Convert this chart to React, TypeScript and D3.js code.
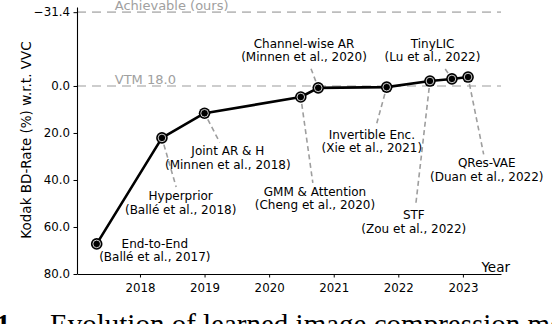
import React, { useEffect, useRef } from 'react';
import * as d3 from 'd3';

// points: publication year vs Kodak BD-rate w.r.t. VVC (lower is better)
const years = [2017.33, 2018.34, 2019.0, 2020.49, 2020.76, 2021.82, 2022.49, 2022.83, 2023.08];
const bdRates = [67.2, 22.1, 11.6, 4.7, 0.8, 0.5, -2.1, -3.0, -3.8];

const methods = [
  'End-to-End',
  'Hyperprior',
  'Joint AR & H',
  'GMM & Attention',
  'Channel-wise AR',
  'Invertible Enc.',
  'STF',
  'TinyLIC',
  'QRes-VAE',
];
const citations = [
  '(Ballé et al., 2017)',
  '(Ballé et al., 2018)',
  '(Minnen et al., 2018)',
  '(Cheng et al., 2020)',
  '(Minnen et al., 2020)',
  '(Xie et al., 2021)',
  '(Zou et al., 2022)',
  '(Lu et al., 2022)',
  '(Duan et al., 2022)',
];
// where each label sits (data coords, centre of the text block)
const labelYears = [2018.23, 2018.63, 2019.36, 2020.71, 2020.54, 2021.59, 2022.24, 2022.53, 2023.37];
const labelRates = [69.8, 49.6, 30.6, 47.8, -15.3, 23.6, 57.7, -15.3, 35.7];

const refRates = [-31.4, 0.0];
const refLabels = ['Achievable (ours)', 'VTM 18.0'];

const yTicks = [-31.4, 0, 20, 40, 60, 80];
const xTicks = [2018, 2019, 2020, 2021, 2022, 2023];

const FONT = 'DejaVu Sans, sans-serif';

const App = () => {
  const chart = useRef<SVGSVGElement>(null);

  useEffect(() => {
    const svg = d3.select(chart.current);
    svg.selectAll('*').remove();

    const x = d3.scaleLinear().domain([2017.025, 2023.59]).range([77, 501]);
    const y = d3.scaleLinear().domain([-33.6, 80]).range([7, 274]);

    // reference lines
    refRates.forEach((r, i) => {
      svg
        .append('line')
        .attr('x1', x.range()[0])
        .attr('x2', x.range()[1])
        .attr('y1', y(r))
        .attr('y2', y(r))
        .attr('stroke', '#bdbdbd')
        .attr('stroke-width', 1.6)
        .attr('stroke-dasharray', '9,6');
      svg
        .append('text')
        .attr('x', x(2017.61))
        .attr('y', y(r) - 2)
        .attr('font-family', FONT)
        .attr('font-size', 13)
        .attr('fill', '#a0a0a0')
        .text(refLabels[i]);
    });

    // axes
    const yAxis = d3
      .axisLeft(y)
      .tickValues(yTicks)
      .tickFormat((d) => d3.format('.1f')(d as number))
      .tickSize(3.5)
      .tickPadding(3.5)
      .tickSizeOuter(0);
    const gy = svg.append('g').attr('transform', `translate(${x.range()[0]},0)`).call(yAxis);

    const xAxis = d3
      .axisBottom(x)
      .tickValues(xTicks)
      .tickFormat((d) => String(d))
      .tickSize(3.5)
      .tickPadding(6)
      .tickSizeOuter(0);
    const gx = svg.append('g').attr('transform', `translate(0,${y.range()[1]})`).call(xAxis);

    [gx, gy].forEach((g) => {
      g.selectAll('text').attr('font-family', FONT).attr('font-size', 11.8).attr('fill', '#000');
      g.selectAll('line').attr('stroke', '#000');
      g.select('.domain').attr('stroke', '#000').attr('stroke-width', 1.1);
    });

    svg
      .append('text')
      .attr('x', 510)
      .attr('y', 272)
      .attr('text-anchor', 'end')
      .attr('font-family', FONT)
      .attr('font-size', 13.5)
      .text('Year');

    svg
      .append('text')
      .attr('transform', `translate(31,140) rotate(-90)`)
      .attr('text-anchor', 'middle')
      .attr('font-family', FONT)
      .attr('font-size', 13.5)
      .text('Kodak BD-Rate (%) w.r.t. VVC');

    // annotation labels first so their boxes can be measured
    const leaders = svg.append('g');
    const labels = svg.append('g');
    methods.forEach((m, i) => {
      const cx = x(labelYears[i]);
      const cy = y(labelRates[i]);
      const t = labels
        .append('text')
        .attr('text-anchor', 'middle')
        .attr('font-family', FONT)
        .attr('font-size', 12);
      t.append('tspan').attr('x', cx).attr('y', cy - 2.5).text(m);
      t.append('tspan').attr('x', cx).attr('y', cy + 11).text(citations[i]);

      const b = (t.node() as SVGTextElement).getBBox();
      const pad = 2;
      const px = x(years[i]);
      const py = y(bdRates[i]);
      const dx = px - cx;
      const dy = py - cy;
      const tx = dx === 0 ? Infinity : ((dx > 0 ? b.x + b.width + pad : b.x - pad) - cx) / dx;
      const ty = dy === 0 ? Infinity : ((dy > 0 ? b.y + b.height + pad : b.y - pad) - cy) / dy;
      const te = Math.min(tx, ty);
      const ex = cx + te * dx;
      const ey = cy + te * dy;
      const len = Math.hypot(px - ex, py - ey);
      const shrink = 7;
      if (te < 1 && len > shrink + 2) {
        const ux = (ex - px) / len;
        const uy = (ey - py) / len;
        leaders
          .append('line')
          .attr('x1', px + ux * shrink)
          .attr('y1', py + uy * shrink)
          .attr('x2', ex)
          .attr('y2', ey)
          .attr('stroke', '#9e9e9e')
          .attr('stroke-width', 1.6)
          .attr('stroke-dasharray', '5,3.5');
      }
    });

    // the progress line
    const pts = years.map((yr, i) => [yr, bdRates[i]] as [number, number]);
    const line = d3
      .line<[number, number]>()
      .x((d) => x(d[0]))
      .y((d) => y(d[1]));
    svg
      .append('path')
      .attr('d', line(pts))
      .attr('fill', 'none')
      .attr('stroke', '#000')
      .attr('stroke-width', 2.6)
      .attr('stroke-linejoin', 'round');

    const marks = svg.append('g');
    pts.forEach((d) => {
      marks.append('circle').attr('cx', x(d[0])).attr('cy', y(d[1])).attr('r', 5.8).attr('fill', '#000');
      marks
        .append('circle')
        .attr('cx', x(d[0]))
        .attr('cy', y(d[1]))
        .attr('r', 3.8)
        .attr('fill', '#000')
        .attr('stroke', '#fff')
        .attr('stroke-width', 0.8);
    });

    // caption of the paper figure, cut off by the crop
    const cap = svg
      .append('text')
      .attr('x', -4)
      .attr('y', 334)
      .attr('font-family', 'Liberation Serif, serif')
      .attr('font-size', 29);
    cap.append('tspan').attr('font-weight', 'bold').text('1');
    cap.append('tspan').attr('x', 50).text('Evolution of learned image compression methods');
  }, []);

  return (
    <svg
      ref={chart}
      width={552}
      height={324}
      style={{ position: 'absolute', left: 0, top: 0, background: '#fff' }}
    />
  );
};

export default App;
